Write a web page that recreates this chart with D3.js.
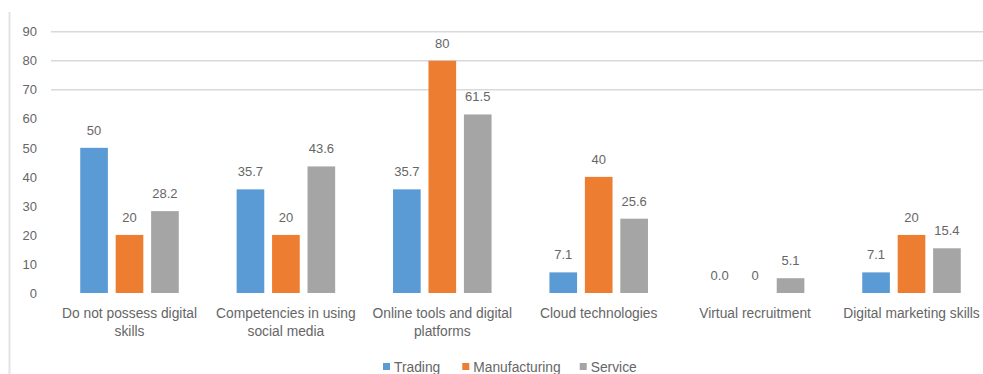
<!DOCTYPE html>
<html>
<head>
<meta charset="utf-8">
<script src="https://cdn.jsdelivr.net/npm/d3@7"></script>
<style>
  html, body { margin: 0; padding: 0; background: #fff; }
  svg { display: block; }
  text { font-family: "Liberation Sans", Arial, sans-serif; fill: #666666; }
</style>
</head>
<body>
<svg id="chart" width="983" height="374"></svg>
<script>
// Digital skill gaps by sector (%)
const categories = [
  "Do not possess digital skills",
  "Competencies in using social media",
  "Online tools and digital platforms",
  "Cloud technologies",
  "Virtual recruitment",
  "Digital marketing skills"
];
const seriesNames = ["Trading", "Manufacturing", "Service"];
// values kept as printed in the data labels
const tradingValues = ["50", "35.7", "35.7", "7.1", "0.0", "7.1"];
const manufacturingValues = ["20", "20", "80", "40", "0", "20"];
const serviceValues = ["28.2", "43.6", "61.5", "25.6", "5.1", "15.4"];
const yTicks = [0, 10, 20, 30, 40, 50, 60, 70, 80, 90];
const gridValues = [70, 80, 90];
const colors = ["#5B9BD5", "#ED7D31", "#A5A5A5"];

const seriesValues = [tradingValues, manufacturingValues, serviceValues];

const svg = d3.select("#chart");
const W = 983, H = 374;

// left frame edge
svg.append("line")
  .attr("x1", 9.5).attr("x2", 9.5)
  .attr("y1", 12).attr("y2", H)
  .attr("stroke", "#e3e3e3").attr("stroke-width", 2);

const y = d3.scaleLinear().domain([0, 90]).range([293, 31.7]);

const x0 = d3.scaleBand()
  .domain(categories)
  .range([51.3, 989.7])
  .paddingInner(0.37)
  .paddingOuter(0.185);

const x1 = d3.scaleBand()
  .domain(seriesNames)
  .range([0, x0.bandwidth()])
  .paddingInner(0.22);

// gridlines
svg.append("g").selectAll("line")
  .data(gridValues)
  .join("line")
  .attr("x1", 51).attr("x2", W)
  .attr("y1", d => y(d)).attr("y2", d => y(d))
  .attr("stroke", "#d9d9d9").attr("stroke-width", 1.5);

// y axis labels
const yAxis = d3.axisLeft(y).tickValues(yTicks).tickSize(0).tickPadding(0)
  .tickFormat(d3.format("d"));
const gy = svg.append("g").attr("transform", "translate(37,0)").call(yAxis);
gy.select(".domain").remove();
gy.selectAll("text")
  .style("font-family", "'Liberation Sans', Arial, sans-serif")
  .style("font-size", "13px")
  .attr("fill", "#666666");

// bars
const rows = categories.map((c, i) => ({
  category: c,
  items: seriesNames.map((s, k) => ({ series: s, k, label: seriesValues[k][i], value: +seriesValues[k][i] }))
}));

const groups = svg.append("g").selectAll("g")
  .data(rows)
  .join("g")
  .attr("transform", d => `translate(${x0(d.category)},0)`);

groups.selectAll("rect")
  .data(d => d.items)
  .join("rect")
  .attr("x", d => x1(d.series))
  .attr("width", x1.bandwidth())
  .attr("y", d => y(d.value))
  .attr("height", d => y(0) - y(d.value))
  .attr("fill", d => colors[d.k]);

groups.selectAll("text.val")
  .data(d => d.items)
  .join("text")
  .attr("class", "val")
  .attr("x", d => x1(d.series) + x1.bandwidth() / 2)
  .attr("y", d => y(d.value) - 13)
  .attr("text-anchor", "middle")
  .style("font-size", "13px")
  .text(d => d.label);

// category labels, wrapped to the band width
const catLabels = svg.append("g").selectAll("text")
  .data(categories)
  .join("text")
  .attr("x", d => x0(d) + x0.bandwidth() / 2)
  .attr("y", 317.5)
  .attr("text-anchor", "middle")
  .style("font-size", "13.8px");

catLabels.each(function(d) {
  const t = d3.select(this);
  const maxW = 152;
  const words = d.split(" ");
  let line = [];
  let tspan = t.append("tspan").attr("x", t.attr("x")).attr("dy", 0);
  words.forEach(w => {
    line.push(w);
    tspan.text(line.join(" "));
    if (tspan.node().getComputedTextLength() > maxW && line.length > 1) {
      line.pop();
      tspan.text(line.join(" "));
      line = [w];
      tspan = t.append("tspan").attr("x", t.attr("x")).attr("dy", 18.5).text(w);
    }
  });
});

// legend
const legend = svg.append("g");
let lx = 383;
seriesNames.forEach((s, k) => {
  legend.append("rect")
    .attr("x", lx).attr("y", 363)
    .attr("width", 7).attr("height", 7)
    .attr("fill", colors[k]);
  const txt = legend.append("text")
    .attr("x", lx + 11).attr("y", 371.5)
    .style("font-size", "13.8px")
    .text(s);
  const tw = txt.node().getComputedTextLength();
  lx += 11 + tw + (k === 0 ? 22 : 19);
});
</script>
</body>
</html>
